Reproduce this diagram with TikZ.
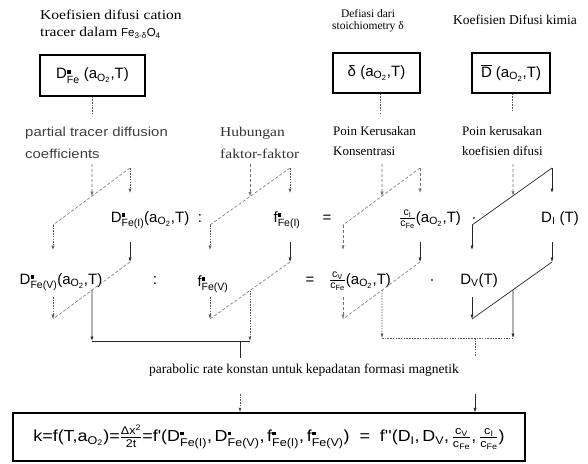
\documentclass[tikz,border=0pt]{standalone}
\usepackage{fontspec}
\usepackage{amsmath}
\setmainfont{Liberation Serif}
\newfontfamily\fsans{Liberation Sans}
\newfontfamily\wserif[FakeStretch=1.15]{Liberation Serif}
\newfontfamily\wsans[FakeStretch=1.15]{Liberation Sans}
\newfontfamily\wfsans[FakeStretch=1.12]{Liberation Sans}
\usetikzlibrary{arrows.meta,calc}

% small filled square used as the tracer mark
\newcommand\sqm{\rule{0.34em}{0.34em}}
\newcommand\Dst[1]{D$^{\text{\sqm}}_{\text{#1}}$}
\newcommand\fst[1]{f$^{\text{\sqm}}_{\text{#1}}$}
\newcommand\aO{a$_{\text{O}_{\text{2}}}$}
\newcommand\cfr[1]{$\frac{\text{c}_{\text{#1}}}{\text{c}_{\text{Fe}}}$}

\begin{document}
\begin{tikzpicture}[x=1pt,y=-1pt,
  lab/.style={font=\fontsize{12}{15}\selectfont, inner sep=0pt, align=left},
  eqn/.style={font=\fsans\fontsize{15}{17}\selectfont, inner sep=0pt, anchor=base},
  frame/.style={draw, line width=1.2pt, inner sep=0pt, font=\fsans\fontsize{15}{17}\selectfont},
  dl/.style={draw=black!55, line width=0.6pt, dash pattern=on 3pt off 2pt},
  dt/.style={draw=black!65, line width=0.6pt, dash pattern=on 1.5pt off 1.2pt},
  sl/.style={draw=black!85, line width=0.7pt},
  arr/.style={-{Latex[length=4.5pt,width=3.2pt]}},
]
\useasboundingbox (0,0) rectangle (588,463);

% ---- top labels and boxed quantities
\node[lab, font=\wserif\fontsize{13.5}{17}\selectfont, anchor=north west] (t1) at (40,10)
  {Koefisien difusi cation\\tracer dalam {\fsans\fontsize{11.5}{13}\selectfont Fe$_{\text{3-δ}}$O$_{\text{4}}$}};
\node[lab, font=\fontsize{11.5}{12.5}\selectfont, align=center, anchor=north] (t2) at (368,9)
  {Defiasi dari\\stoichiometry δ};
\node[lab, font=\fontsize{13.5}{16}\selectfont, anchor=north] (t3) at (515,15) {Koefisien Difusi kimia};

\node[frame, minimum width=105, minimum height=41] (b1) at (92.5,75.5) {\Dst{Fe} (\aO,T)};
\node[frame, minimum width=87, minimum height=40] (b2) at (376.5,73) {δ (\aO,T)};
\node[frame, minimum width=78, minimum height=40] (b3) at (511,73) {$\overline{\text{D}}$ (\aO,T)};

\coordinate (b1e) at (92,113);
\coordinate (b2e) at (380,115);
\coordinate (b3e) at (512,112);
\draw[dt] (b1.south -| b1e) -- (b1e);
\draw[dt] (b2.south -| b2e) -- (b2e);
\draw[dt] (b3.south -| b3e) -- (b3e);

% ---- second row of labels
\node[lab, font=\wsans\fontsize{13}{22}\selectfont, text=black!75, anchor=north west] (l1) at (25,127)
  {partial tracer diffusion\\coefficients};
\node[lab, font=\wserif\fontsize{13.5}{22}\selectfont, text=black!80, anchor=north west] (l2) at (220,127)
  {Hubungan\\faktor-faktor};
\node[lab, font=\fontsize{13}{20}\selectfont, anchor=north west] (l3) at (333,126)
  {Poin Kerusakan\\Konsentrasi};
\node[lab, font=\fontsize{13}{20}\selectfont, anchor=north west] (l4) at (462,126)
  {Poin kerusakan\\koefisien difusi};

% ---- the two rows of quantities
\node[eqn] (r1a) at (150,222) {\Dst{Fe(I)}(\aO,T)};
\node[eqn] (r1b) at (200,222) {:};
\node[eqn] (r1c) at (287,222) {\fst{Fe(I)}};
\node[eqn] (r1d) at (327,222) {=};
\node[eqn] (r1e) at (430,222) {\cfr{I}(\aO,T)};
\node[eqn] (r1f) at (474,222) {·};
\node[eqn] (r1g) at (560,222) {D$_{\text{I}}$ (T)};

\node[eqn] (r2a) at (61,284) {\Dst{Fe(V)}(\aO,T)};
\node[eqn] (r2b) at (155,284) {:};
\node[eqn] (r2c) at (213,286) {\fst{Fe(V)}};
\node[eqn] (r2d) at (310,284) {=};
\node[eqn] (r2e) at (360,284) {\cfr{V}(\aO,T)};
\node[eqn] (r2f) at (432,284) {·};
\node[eqn] (r2g) at (479,284) {D$_{\text{V}}$(T)};

% ---- slanted connector frames, one per column
\foreach \col/\xl/\xr/\xm/\ds/\vs in {A/53/130/92/dl/dt, B/210/290/250/dl/dt,
                                     C/343/420/382/dl/dl, D/472/552/513/sl/sl}{
  \pgfmathsetmacro\tpos{(\xr-\xm)/(\xr-\xl)}
  \coordinate (\col-ut) at (\xr,168);
  \coordinate (\col-ub) at (\xl,225);
  \coordinate (\col-lt) at (\xr,262);
  \coordinate (\col-lb) at (\xl,319);
  \coordinate (\col-in) at (\xm,164);
  \coordinate (\col-um) at ($(\col-ut)!\tpos!(\col-ub)$);
  \coordinate (\col-lm) at ($(\col-lt)!\tpos!(\col-lb)$);
  \coordinate (\col-r1) at (\xr,193);
  \coordinate (\col-l1) at (\xl,250);
  \coordinate (\col-r2) at (\xr,242);
  \coordinate (\col-l2) at (\xl,297);
  \draw[\ds] (\col-ut) -- (\col-ub);
  \draw[\ds] (\col-lt) -- (\col-lb);
  \draw[dl, arr] (\col-in) -- (\col-um);
  \draw[\vs, arr] (\col-ut) -- (\col-r1);
  \draw[\vs, arr] (\col-ub) -- (\col-l1);
  \draw[sl, arr] (\col-r2) -- (\col-lt);
  \draw[\vs, arr] (\col-l2) -- (\col-lb);
}

% ---- collecting lines towards the rate constant
\coordinate (hA) at (92,341);
\coordinate (hB) at (250,341);
\coordinate (hC) at (382,338);
\coordinate (hD) at (513,338);
\draw[sl, arr] (A-lm) -- (hA);
\draw[dt, arr] (B-lm) -- (hB);
\draw[dt, arr] (C-lm) -- (hC);
\draw[sl, arr] (D-lm) -- (hD);
\draw[sl] (hA) -- (hB);
\draw[dt] (hC) -- (hD);

\coordinate (pL1) at (240,341);
\coordinate (pL2) at (240,358);
\coordinate (pR1) at (475,338);
\coordinate (pR2) at (475,356);
\draw[sl] (pL1) -- (pL2);
\draw[dt] (pR1) -- (pR2);

\node[lab, font=\fontsize{13.5}{15}\selectfont] (rate) at (304,370)
  {parabolic rate konstan untuk kepadatan formasi magnetik};

% ---- boxed rate-constant relation
\node[frame, minimum width=512, minimum height=48, font=\wfsans\fontsize{16}{18}\selectfont] (fb) at (269,437)
  {k=f(T,\aO)=$\frac{\text{Δx}^{\text{2}}}{\text{2t}}$=f'(\Dst{Fe(I)},\,\Dst{Fe(V)},\,\fst{Fe(I)},\,\fst{Fe(V)})\ \ =\ \ f''(D$_{\text{I}}$,\,D$_{\text{V}}$,\,\cfr{V},\,\cfr{I})};

\coordinate (qL) at (240,394);
\coordinate (qR) at (475,394);
\draw[dt, arr] (qL) -- (fb.north -| qL);
\draw[sl, arr] (qR) -- (fb.north -| qR);
\end{tikzpicture}
\end{document}
